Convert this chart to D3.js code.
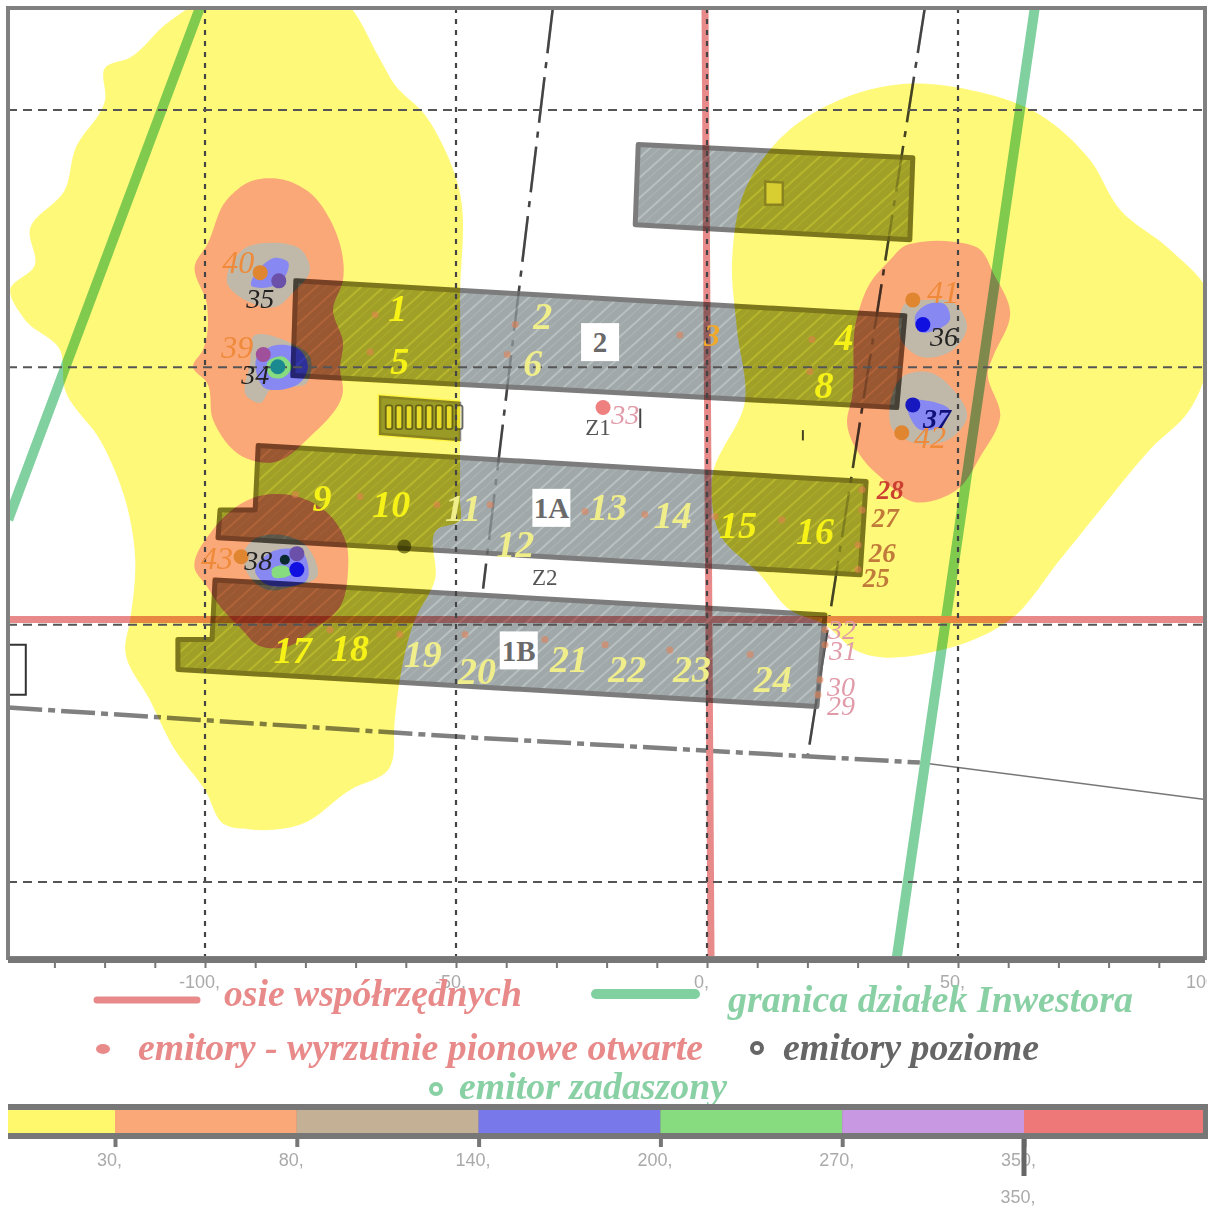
<!DOCTYPE html>
<html>
<head>
<meta charset="utf-8">
<script src="https://cdnjs.cloudflare.com/ajax/libs/d3/7.8.5/d3.min.js"></script>
<style>
  html, body { margin: 0; padding: 0; background: #fff; }
  svg { display: block; }
</style>
</head>
<body>
<div id="chart"></div>
<script>
// Noise zones in plan metres [x, y]
const yellowLeft = [[-119.9,108.2],[-114.9,110.2],[-107.9,116.6],[-101,121],[-72.1,121],[-65.1,109.8],[-62.2,104.9],[-56.2,99.1],[-52.2,92.3],[-49.6,85.5],[-49.2,63.1],[-49.2,40],[-49.2,24],[-49.2,20.4],[-53.8,18.5],[-54.2,8.7],[-58.2,1],[-61.2,-10.7],[-62.2,-18.5],[-63.5,-28.2],[-71.1,-32.1],[-81.1,-38.9],[-91,-39.8],[-96,-38.9],[-100,-32.1],[-106,-24.3],[-111,-14.6],[-115.9,-4.9],[-114.9,1],[-113.9,12.6],[-115.9,24.3],[-120.9,35.9],[-127.9,45.7],[-128.9,53.4],[-135.9,59.3],[-138.8,65.1],[-133.9,69.9],[-134.9,76.7],[-127.9,84.5],[-125.9,92.3],[-119.9,102]];
const yellowRight = [[7.6,84.5],[16.5,96.2],[26.5,102],[37.5,104.9],[52.4,103.9],[66.3,99.1],[76.3,90.3],[82.3,80.6],[92.2,72.9],[99.6,65.1],[99.6,49.5],[96.2,41.8],[88.2,34],[78.3,22.3],[70.3,12.6],[60.4,1],[48.4,-4.5],[29.5,-4.9],[23.5,0],[16.5,2.9],[10.6,9.7],[2.6,17.5],[1,28.2],[7.6,43.7],[6,57.3],[5,70.9]];
const orangeTop = [[-84.5,86.5],[-79.1,83.9],[-75.1,78.7],[-72.5,67],[-74.5,61.2],[-72.5,54.8],[-73.1,49.5],[-72.5,45.7],[-79.1,36.5],[-86.5,31.5],[-92.4,32.6],[-98.4,39.8],[-99.6,47],[-102.4,50.1],[-100.4,53.4],[-99.6,62.2],[-102,69.9],[-99.6,73.8],[-95.6,82.6],[-91,86.1]];
const orangeLow = [[-102,10.7],[-98.4,18.5],[-89.6,24.9],[-81.7,24.9],[-75.7,21.8],[-71.7,15.2],[-71.5,10.7],[-73.1,3.5],[-78.5,-1],[-83.7,-4.3],[-89.6,-3.9],[-92.6,-1],[-97.6,4.3],[-99.6,7.4]];
const orangeRight = [[39,73.4],[43,74.4],[49,74.4],[54.4,72.9],[57,68.4],[60.4,60.6],[57,52.1],[56,49.5],[58.4,40.4],[54.4,32.6],[49.8,26.2],[41,23.9],[35.1,28.2],[31.1,32.1],[27.9,39.2],[28.9,44.3],[29.9,59.8],[32.5,66.4],[36.5,70.9]];
const tanZones = [
  [[-95.6,66.4],[-92.4,72.9],[-87,74.2],[-80.5,72.5],[-79.1,69],[-82.5,64.5],[-85.7,61.8],[-91,62.6]],
  [[-90.4,56],[-83.1,54.8],[-79.1,52.1],[-79.7,47],[-87,45.7],[-89,43.1],[-91.6,44.3],[-91,50.9]],
  [[-90.4,16.5],[-85.7,17.5],[-79.7,15.2],[-77.7,9.3],[-82.5,7.4],[-87.6,6.8],[-91.6,10.1],[-92,14.6]],
  [[39.8,62.6],[43.8,63.1],[49,62.6],[51.8,57.9],[49,53.4],[42.4,52.1],[39,54.8]],
  [[39,48.2],[44.4,49],[49,45.7],[51.8,40.4],[49,36.5],[41,35.4],[37,37.9],[36.5,43.1]]
];
const blueZones = [
  [[-90.6,65.7],[-85.7,71.3],[-83.5,70.5],[-84.5,67],[-87.6,65.5]],
  [[-89.6,52.1],[-87,54],[-80.7,53],[-79.5,50.1],[-80.5,47.6],[-88.4,46.2]],
  [[-90,10.3],[-87,14],[-80.5,14],[-79.7,8.7],[-84.5,7.4],[-88.4,8.2]],
  [[41.4,59.8],[43.8,62.2],[47.4,62.2],[48.4,59.3],[45.8,57.3],[42.4,56.9]],
  [[40,43.7],[42.4,43.7],[48.4,41.4],[46.4,38.5],[42.4,37.9],[40.4,40.4]]
];
const greenZones = [
  [[-87.6,50.9],[-84.5,52.1],[-82.7,50.1],[-84.5,48],[-87,48.2]],
  [[-86.7,10.7],[-83.7,11.3],[-82.7,10.1],[-84.5,9.1],[-86.5,9.3]]
];

// Buildings
const halls = [
  [[-13.7,93.3],[41,90.7],[40.4,74.8],[-14.3,77.7]],
  [[-81.9,66.8],[39.4,60],[37.8,42.2],[-82.5,48.4]],
  [[-89.4,34.8],[31.7,27.8],[30.5,9.7],[-97.4,16.9],[-97,22.3],[-90,22.3]],
  [[-98,8.7],[23.5,1.9],[21.9,-15.9],[-105.4,-8.7],[-105.4,-2.9],[-98.6,-2.9]]
];
const sheds = [
  [[-65.1,44.3],[-49.2,43.1],[-49.2,35.9],[-65.1,37.1]],
  [[11.6,86.1],[15.1,85.9],[15.1,81.6],[11.6,81.6]]
];

// Lines on the plan
const axisH = [[-139.2,1],[100,1]];
const axisV = [[-0.4,119.9],[0.8,-64.7]];
const plotLeft = [[-101,119.9],[-139.2,20.4]];
const plotRight = [[65.3,119.9],[37.8,-64.7]];
const dashA = [[-30.7,119.9],[-44.6,7]];
const dashB = [[43.4,119.9],[20.1,-25.3]];
const fence = [[-139.2,-16.1],[-101,-18.5],[-49.2,-21.8],[42.4,-26.8]];
const fenceEnd = [[42.4,-26.8],[99.6,-34]];
const shortMarks = [[[-13.3,38.2],[-13.3,42]],[[19.1,35.8],[19.1,37.8]]];
const edgeBox = [[-139.2,-3.9],[-135.7,-3.9],[-135.7,-13.6],[-139.2,-13.6]];

const gridX = [-100, -50, 0, 50];
const gridY = [100, 50, 0, -50];
const tickX = d3.range(-130, 101, 10);
const labelX = [-100, -50, 0, 50, 100];

// Emitters
const roofDots = [[-66.1,60.2],[-67.1,53],[-38.2,58.3],[-39.8,52.5],[-5.4,56.3],[20.9,55.4],[20.5,49.2],[-82,25.3],[-69.1,24.9],[-53.8,23.3],[-43.2,23.3],[-24.3,22],[-12.4,21.4],[1.6,21],[14.9,20.4],[-75.1,-1],[-61.2,-1.9],[-48.2,-1.9],[-32.3,-2.9],[-20.3,-3.9],[-7.4,-4.9],[8.6,-5.8],[30.1,10.7],[30.1,15.5],[30.9,22.3],[30.9,26.2],[22.1,-13.6],[22.5,-10.7],[23.5,-3.9],[23.5,-1]];
const bigDots = [[-20.7,42.2,"pink"],[-89,68.4,"orange"],[-85.3,66.8,"violet"],[-88.4,52.5,"plum"],[-85.5,50.1,"teal"],[41,63.1,"orange"],[43,58.3,"blue"],[41,42.7,"navy"],[38.8,37.3,"orange"],[-92.8,13.2,"orange"],[-81.7,13.8,"violet"],[-81.7,10.7,"blue"],[-84.1,12.6,"ink"]];

// Numbers on the plan
const numbersBright = [["1",-61.6,61.6],["4",27.3,56],["5",-61.2,51.3],["8",23.3,46.6],["9",-76.7,24.7],["10",-62.9,23.5],["15",6.2,19.4],["16",21.5,18.3],["17",-82.5,-4.9],["18",-71.1,-4.5]];
const numbersPale = [["2",-32.7,60],["6",-34.7,50.9],["11",-48.6,22.7],["12",-38.2,15.7],["13",-19.7,22.9],["14",-6.8,21.4],["19",-56.6,-5.6],["20",-45.8,-8.9],["21",-27.5,-6.6],["22",-15.9,-8.5],["23",-3,-8.5],["24",13.1,-10.5]];
const numbersAmber = [["3",1,56.3]];
const numbersOrange = [["40",-93.4,70.5],["39",-93.6,54],["41",47,64.7],["42",44.4,36.5],["43",-97.6,13]];
const numbersDark = [["35",-89,63.5],["34",-90,48.6],["36",47.2,56.1],["38",-89.4,12.6]];
const numbersNavy = [["37",45.8,40.2]];
const numbersBrown = [["27",35.5,20.8],["26",34.9,14],["25",33.7,9.1]];
const numbersRed = [["28",36.5,26.2]];
const numbersPink = [["33",-16.3,40.8],["32",26.9,-0.8],["31",27.1,-4.9],["30",26.7,-12],["29",26.7,-15.7]];
const boxLabels = [["2",-21.3,54.9],["1A",-31,22.7],["1B",-37.5,-5]];
const zoneLabels = [["Z1",-21.7,38.5],["Z2",-32.3,9.3]];

// Colour scale
const legendStops = [30, 80, 140, 200, 270, 350];
const legendColors = ["#fff86c", "#fba878", "#c4b094", "#7878ea", "#88dc80", "#c898e2", "#ee7878"];

const dotColors = { pink: "#ee8080", orange: "#e08530", violet: "#6a50a8", plum: "#a0509a", teal: "#1a8a90", blue: "#1010e0", navy: "#1818c0", ink: "#0a2a30" };

const W = 1220, H = 1207;
const frame = { left: 8, right: 1205, top: 8, bottom: 958 };

const x = d3.scaleLinear().domain([-100, 100]).range([205, 1209]);
const y = d3.scaleLinear().domain([-50, 100]).range([882, 110]);
const color = d3.scaleThreshold().domain(legendStops).range(legendColors);

const svg = d3.select("#chart").append("svg")
    .attr("width", W)
    .attr("height", H)
    .attr("font-family", "'Liberation Serif', serif");

const line = d3.line().x(d => x(d[0])).y(d => y(d[1]));
const blob = d3.line().x(d => x(d[0])).y(d => y(d[1])).curve(d3.curveCatmullRomClosed.alpha(1));
const poly = d3.line().x(d => x(d[0])).y(d => y(d[1])).curve(d3.curveLinearClosed);

const defs = svg.append("defs");
defs.append("clipPath").attr("id", "plotClip").append("rect")
    .attr("x", frame.left).attr("y", frame.top)
    .attr("width", frame.right - frame.left).attr("height", frame.bottom - frame.top);
defs.append("clipPath").attr("id", "pageClip").append("rect")
    .attr("x", 0).attr("y", 0).attr("width", 1207).attr("height", H);

// diagonal hatch on the roofs
const hatch = defs.append("pattern")
    .attr("id", "hatch")
    .attr("patternUnits", "userSpaceOnUse")
    .attr("width", 15).attr("height", 15)
    .attr("patternTransform", "rotate(-42)");
hatch.append("rect").attr("width", 15).attr("height", 15).attr("fill", "#a0a8aa");
hatch.append("rect").attr("y", 4).attr("width", 15).attr("height", 2).attr("fill", "#b8c0c0");
hatch.append("rect").attr("y", 11).attr("width", 15).attr("height", 1).attr("fill", "#acb4b6");

// masks: roofs only, and everything but the roofs
const roofMask = defs.append("mask").attr("id", "roofMask").attr("maskUnits", "userSpaceOnUse")
    .attr("x", 0).attr("y", 0).attr("width", W).attr("height", H);
roofMask.selectAll("path").data(halls.concat(sheds)).join("path")
    .attr("d", poly).attr("fill", "#fff").attr("stroke", "#fff").attr("stroke-width", 5);
const openMask = defs.append("mask").attr("id", "openMask").attr("maskUnits", "userSpaceOnUse")
    .attr("x", 0).attr("y", 0).attr("width", W).attr("height", H);
openMask.append("rect").attr("width", W).attr("height", H).attr("fill", "#fff");
openMask.selectAll("path").data(halls).join("path")
    .attr("d", poly).attr("fill", "#000").attr("stroke", "#000").attr("stroke-width", 5);

const plot = svg.append("g").attr("clip-path", "url(#plotClip)").style("isolation", "isolate");

// zones, lowest level first
function drawZones(parent, orangeFill) {
  parent.append("g").selectAll("path").data([yellowLeft, yellowRight]).join("path")
      .attr("d", blob).attr("fill", color(10)).attr("fill-opacity", 0.9);
  parent.append("g").selectAll("path").data([orangeTop, orangeLow, orangeRight]).join("path")
      .attr("d", blob).attr("fill", orangeFill);
  parent.append("g").selectAll("path").data(tanZones).join("path")
      .attr("d", blob).attr("fill", "#c0b8a8");
  parent.append("g").selectAll("path").data(blueZones).join("path")
      .attr("d", blob).attr("fill", "#8888f2");
  parent.append("g").selectAll("path").data(greenZones).join("path")
      .attr("d", blob).attr("fill", color(220));
}
plot.append("rect").attr("x", 0).attr("y", 0).attr("width", W).attr("height", H).attr("fill", "#fff");
drawZones(plot, color(50));

const base = plot.append("g").style("mix-blend-mode", "multiply");

base.selectAll("path.hall").data(halls).join("path")
    .attr("class", "hall")
    .attr("d", poly)
    .attr("fill", "url(#hatch)")
    .attr("stroke", "#7c7c7c")
    .attr("stroke-width", 5)
    .attr("stroke-linejoin", "round");
base.selectAll("path.shed").data(sheds).join("path")
    .attr("class", "shed")
    .attr("d", poly)
    .attr("fill", (d, i) => i === 0 ? "#9aa2a5" : "#d8d8d8")
    .attr("stroke", "#8a8a8a")
    .attr("stroke-width", 2.5);

// windows of the small technical building
base.append("g").selectAll("rect").data(d3.range(-64, -49.5, 2)).join("rect")
    .attr("x", d => x(d))
    .attr("y", y(42.6))
    .attr("width", 6.5)
    .attr("height", y(38) - y(42.6))
    .attr("rx", 2)
    .attr("fill", "#e8e8b0")
    .attr("stroke", "#666")
    .attr("stroke-width", 1.8);

// zone colours show through the roofs stronger than a plain overlay
const roofTint = plot.append("g")
    .attr("mask", "url(#roofMask)")
    .style("mix-blend-mode", "multiply");
roofTint.append("rect").attr("width", W).attr("height", H).attr("fill", "#fff");
drawZones(roofTint, "#f8c8a0");

const marks = plot.append("g").style("mix-blend-mode", "multiply");

// pole on the 1A wall
marks.append("circle")
    .attr("cx", x(-60.3)).attr("cy", y(15.2)).attr("r", 7).attr("fill", "#8a8a50");

// site lines run faint across the roofs
const dashOpen = marks.append("g").attr("mask", "url(#openMask)");
dashOpen.selectAll("path").data([dashA, dashB]).join("path")
    .attr("d", line)
    .attr("fill", "none").attr("stroke", "#444").attr("stroke-width", 2.5)
    .attr("stroke-dasharray", "46 9 6 9");
marks.append("g").attr("opacity", 0.3).selectAll("path").data([dashA, dashB]).join("path")
    .attr("d", line)
    .attr("fill", "none").attr("stroke", "#444").attr("stroke-width", 2.5)
    .attr("stroke-dasharray", "46 9 6 9");
marks.append("path").datum(fence).attr("d", line)
    .attr("fill", "none").attr("stroke", "#808080").attr("stroke-width", 4.5)
    .attr("stroke-dasharray", "34 6 7 6");
marks.append("path").datum(fenceEnd).attr("d", line)
    .attr("fill", "none").attr("stroke", "#777").attr("stroke-width", 1.5);
marks.append("g").selectAll("path").data(shortMarks).join("path")
    .attr("d", line)
    .attr("fill", "none").attr("stroke", "#444").attr("stroke-width", 2);
marks.append("path").datum(edgeBox).attr("d", poly)
    .attr("fill", "none").attr("stroke", "#333").attr("stroke-width", 2);

marks.selectAll("path.plotline").data([plotLeft, plotRight]).join("path")
    .attr("class", "plotline")
    .attr("d", line)
    .attr("fill", "none")
    .attr("stroke", "#80d0a0")
    .attr("stroke-width", 10);

marks.selectAll("path.coord").data([axisH, axisV]).join("path")
    .attr("class", "coord")
    .attr("d", line)
    .attr("fill", "none")
    .attr("stroke", "#e88a8a")
    .attr("stroke-width", 7);

// grid
plot.append("g").selectAll("line").data(gridX).join("line")
    .attr("x1", d => x(d)).attr("x2", d => x(d))
    .attr("y1", frame.top).attr("y2", frame.bottom)
    .attr("stroke", "#444").attr("stroke-width", 2.2).attr("stroke-dasharray", "5 6");
plot.append("g").selectAll("line").data(gridY).join("line")
    .attr("x1", frame.left).attr("x2", frame.right)
    .attr("y1", d => y(d)).attr("y2", d => y(d))
    .attr("stroke", "#555").attr("stroke-width", 2).attr("stroke-dasharray", "9 6");

// emitters
plot.append("g").selectAll("circle").data(roofDots).join("circle")
    .attr("cx", d => x(d[0])).attr("cy", d => y(d[1])).attr("r", 3.5)
    .attr("fill", "#e88050").attr("opacity", 0.55);
plot.append("g").selectAll("circle").data(bigDots).join("circle")
    .attr("cx", d => x(d[0])).attr("cy", d => y(d[1]))
    .attr("r", d => d[2] === "ink" ? 5 : 7.5)
    .attr("fill", d => dotColors[d[2]]);

// white boxes for the building names
const boxes = plot.append("g").selectAll("g").data(boxLabels).join("g")
    .attr("transform", d => `translate(${x(d[1])},${y(d[2])})`);
boxes.append("rect").attr("x", -19).attr("y", -19).attr("width", 38).attr("height", 38).attr("fill", "#fff");
boxes.append("text").text(d => d[0])
    .attr("text-anchor", "middle").attr("dy", "0.35em")
    .attr("font-size", 29).attr("font-weight", "bold").attr("fill", "#6a6a6a");

plot.append("g").selectAll("text").data(zoneLabels).join("text")
    .text(d => d[0])
    .attr("x", d => x(d[1])).attr("y", d => y(d[2]))
    .attr("text-anchor", "middle").attr("dy", "0.35em")
    .attr("font-size", 23).attr("fill", "#555");

function numbers(list, fill, size, weight) {
  plot.append("g").selectAll("text").data(list).join("text")
      .text(d => d[0])
      .attr("x", d => x(d[1])).attr("y", d => y(d[2]))
      .attr("text-anchor", "middle").attr("dy", "0.35em")
      .attr("font-size", size)
      .attr("font-style", "italic")
      .attr("font-weight", weight)
      .attr("fill", fill);
}
numbers(numbersBright, "#f6f218", 38, "bold");
numbers(numbersPale, "#f0ee8a", 38, "bold");
numbers(numbersAmber, "#f0a828", 32, "bold");
numbers(numbersOrange, "#ee8a3a", 32, "normal");
numbers(numbersDark, "#222", 28, "normal");
numbers(numbersNavy, "#10107a", 28, "bold");
numbers(numbersBrown, "#c07a3a", 27, "bold");
numbers(numbersRed, "#cc4030", 27, "bold");
numbers(numbersPink, "#e09aa8", 28, "normal");

// plan frame and bottom axis
svg.append("rect")
    .attr("x", frame.left).attr("y", frame.top)
    .attr("width", frame.right - frame.left).attr("height", frame.bottom - frame.top)
    .attr("fill", "none").attr("stroke", "#808080").attr("stroke-width", 4);
svg.append("line")
    .attr("x1", frame.left).attr("x2", frame.right)
    .attr("y1", frame.bottom + 2).attr("y2", frame.bottom + 2)
    .attr("stroke", "#777").attr("stroke-width", 6);

const axisG = svg.append("g")
    .attr("clip-path", "url(#pageClip)")
  .append("g")
    .attr("transform", `translate(0,${frame.bottom + 4})`)
    .call(d3.axisBottom(x).tickValues(tickX).tickSize(6)
      .tickFormat(d => labelX.includes(d) ? d + "," : ""));
axisG.select(".domain").remove();
axisG.selectAll("line").attr("stroke", "#777").attr("stroke-width", 2);
axisG.selectAll("text")
    .attr("font-family", "'Liberation Sans', sans-serif")
    .attr("font-size", 18)
    .attr("fill", "#aaa")
    .attr("dx", -6)
    .attr("dy", 17);

// legend
const legend = svg.append("g").attr("font-style", "italic").attr("font-weight", "bold").attr("font-size", 38);
const legendText = [
  ["osie współrzędnych", 224, 1006, 298, "#e88a8a"],
  ["granica działek Inwestora", 728, 1012, 405, "#8ad0a5"],
  ["emitory - wyrzutnie pionowe otwarte", 138, 1060, 565, "#e88a8a"],
  ["emitory poziome", 783, 1060, 256, "#666"],
  ["emitor zadaszony", 459, 1099, 268, "#8ad0a5"]
];
legend.selectAll("text").data(legendText).join("text")
    .text(d => d[0])
    .attr("x", d => d[1]).attr("y", d => d[2])
    .attr("textLength", d => d[3])
    .attr("lengthAdjust", "spacingAndGlyphs")
    .attr("fill", d => d[4]);
legend.append("line").attr("x1", 97).attr("x2", 197).attr("y1", 1000).attr("y2", 1000)
    .attr("stroke", "#e88a8a").attr("stroke-width", 7).attr("stroke-linecap", "round");
legend.append("line").attr("x1", 596).attr("x2", 695).attr("y1", 994).attr("y2", 994)
    .attr("stroke", "#80d0a0").attr("stroke-width", 10).attr("stroke-linecap", "round");
legend.append("ellipse").attr("cx", 103).attr("cy", 1049).attr("rx", 7).attr("ry", 5).attr("fill", "#e88a8a");
legend.append("circle").attr("cx", 757).attr("cy", 1048).attr("r", 5)
    .attr("fill", "none").attr("stroke", "#666").attr("stroke-width", 4);
legend.append("circle").attr("cx", 436).attr("cy", 1089).attr("r", 5)
    .attr("fill", "none").attr("stroke", "#8ad0a5").attr("stroke-width", 4);

// colour bar
const stopX = d3.scalePoint().domain(legendStops).range([115, 1024]);
const bar = svg.append("g");
bar.append("rect").attr("x", 8).attr("y", 1104).attr("width", 1200).attr("height", 35).attr("fill", "#777");
const segEdges = [8].concat(legendStops.map(d => stopX(d)), [1203]);
bar.selectAll("rect.seg").data(legendColors).join("rect")
    .attr("class", "seg")
    .attr("x", (d, i) => segEdges[i])
    .attr("y", 1110)
    .attr("width", (d, i) => segEdges[i + 1] - segEdges[i])
    .attr("height", 23)
    .attr("fill", d => d);

const stopAxis = svg.append("g")
    .attr("transform", "translate(0,1139)")
    .call(d3.axisBottom(stopX).tickSize(8).tickFormat(d => d + ","));
stopAxis.select(".domain").remove();
stopAxis.selectAll("line").attr("stroke", "#777").attr("stroke-width", 4);
stopAxis.selectAll("text")
    .attr("font-family", "'Liberation Sans', sans-serif")
    .attr("font-size", 18)
    .attr("fill", "#aaa")
    .attr("dx", -6)
    .attr("dy", 16);
// the 350 stop is drawn twice in the source, a longer tick and a second label
svg.append("line")
    .attr("x1", stopX(350)).attr("x2", stopX(350))
    .attr("y1", 1139).attr("y2", 1176)
    .attr("stroke", "#666").attr("stroke-width", 5);
svg.append("text").text("350,")
    .attr("x", stopX(350) - 6).attr("y", 1203)
    .attr("text-anchor", "middle")
    .attr("font-family", "'Liberation Sans', sans-serif")
    .attr("font-size", 18)
    .attr("fill", "#aaa");
</script>
</body>
</html>
